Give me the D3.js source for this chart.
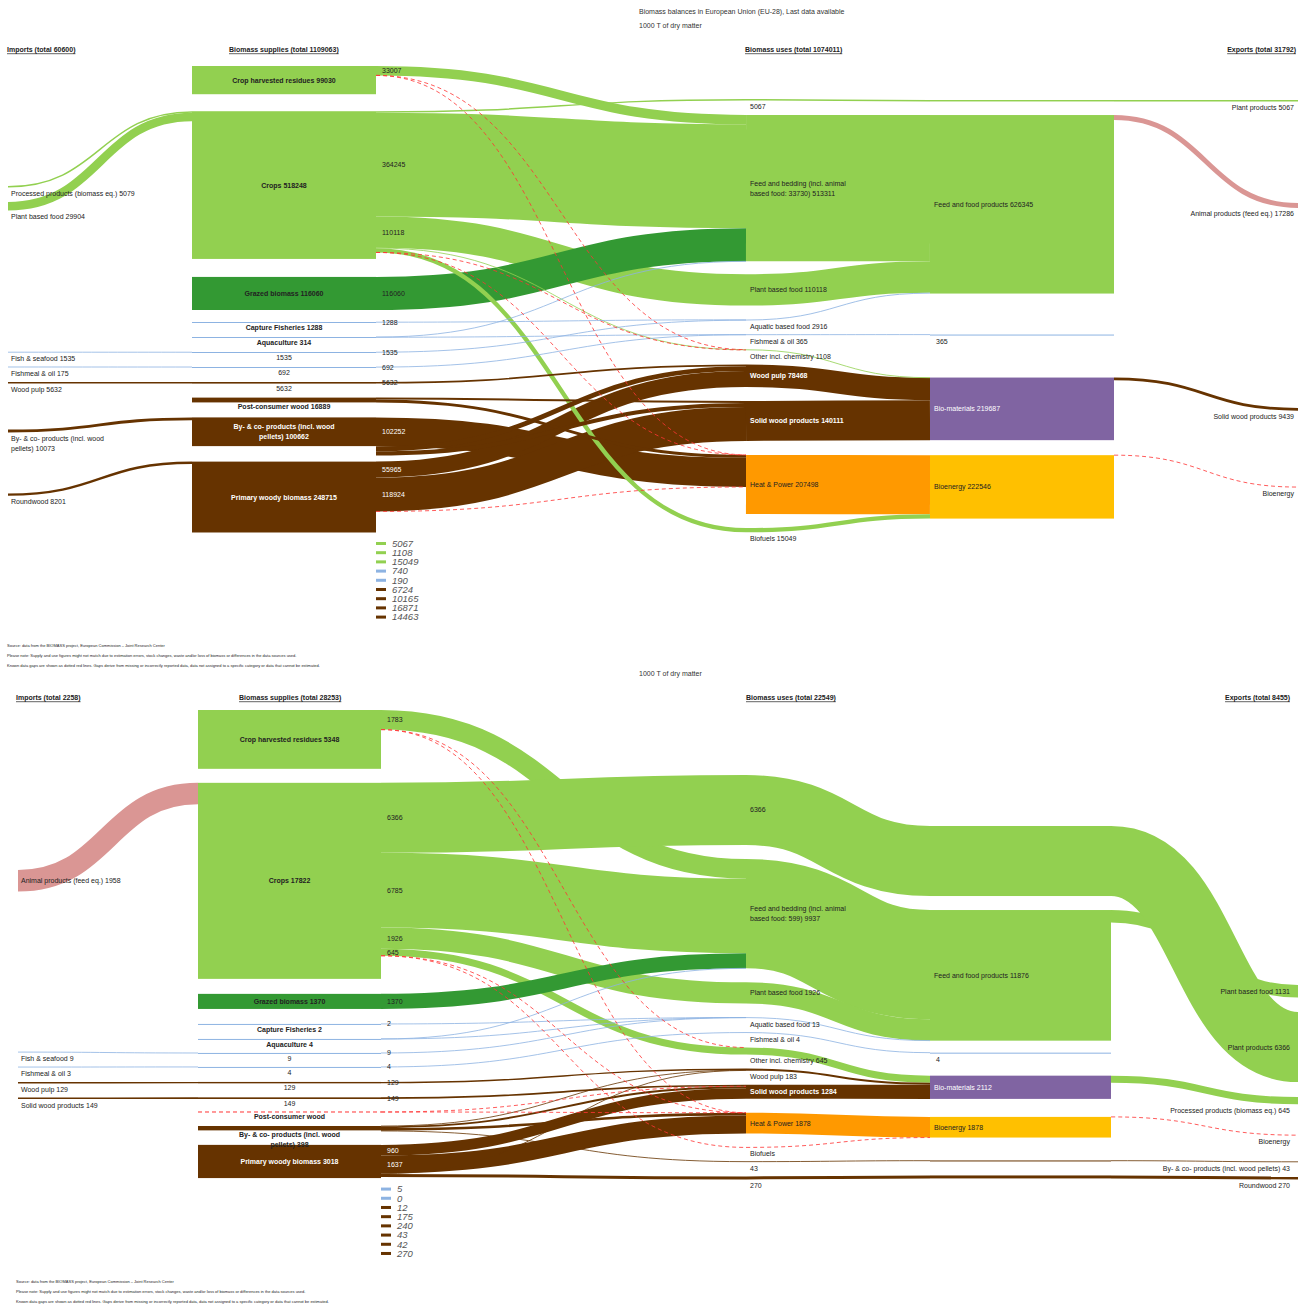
<!DOCTYPE html>
<html>
<head>
<meta charset="utf-8">
<title>Biomass balances</title>
<script src="https://cdn.jsdelivr.net/npm/d3@7"></script>
<style>
  body { margin: 0; background: #fff; }
  svg { display: block; font-family: "Liberation Sans", Arial, sans-serif; }
</style>
</head>
<body>
<svg id="chart" width="1306" height="1304"></svg>
<script>
// ---------- EU-28 panel (top) ----------
const titleA = ['Biomass balances in European Union (EU-28), Last data available', '1000 T of dry matter'];
const headersA = ['Imports (total 60600)', 'Biomass supplies (total 1109063)', 'Biomass uses (total 1074011)', 'Exports (total 31792)'];

const importsA = [
    {id: 'i_proc', name: 'Processed products (biomass eq.)', value: 5079, group: 'crop'},
    {id: 'i_pbf', name: 'Plant based food', value: 29904, group: 'crop'},
    {id: 'i_fish', name: 'Fish & seafood', value: 1535, group: 'fish'},
    {id: 'i_fmeal', name: 'Fishmeal & oil', value: 175, group: 'fish'},
    {id: 'i_pulp', name: 'Wood pulp', value: 5632, group: 'wood'},
    {id: 'i_byp', name: 'By- & co- products (incl. wood\npellets)', value: 10073, group: 'wood'},
    {id: 'i_round', name: 'Roundwood', value: 8201, group: 'wood'}
];
const suppliesA = [
    {id: 's_res', name: 'Crop harvested residues', value: 99030, group: 'crop'},
    {id: 's_crops', name: 'Crops', value: 518248, group: 'crop'},
    {id: 's_graz', name: 'Grazed biomass', value: 116060, group: 'grass'},
    {id: 's_capt', name: 'Capture Fisheries', value: 1288, group: 'fish'},
    {id: 's_aqua', name: 'Aquaculture', value: 314, group: 'fish'},
    {id: 'p_fish', name: '1535', value: 1535, group: 'fish', pass: true},
    {id: 'p_fmeal', name: '692', value: 692, group: 'fish', pass: true},
    {id: 'p_pulp', name: '5632', value: 5632, group: 'wood', pass: true},
    {id: 's_post', name: 'Post-consumer wood', value: 16889, group: 'wood'},
    {id: 's_byp', name: 'By- & co- products (incl. wood\npellets)', value: 100662, group: 'wood'},
    {id: 's_prim', name: 'Primary woody biomass', value: 248715, group: 'wood'}
];
const usesA = [
    {id: 'p_plant', name: '5067', value: 5067, group: 'crop', pass: true},
    {id: 'u_feed', name: 'Feed and bedding (incl. animal\nbased food: 33730)', value: 513311, group: 'crop'},
    {id: 'u_pbf', name: 'Plant based food', value: 110118, group: 'crop'},
    {id: 'u_aqua', name: 'Aquatic based food', value: 2916, group: 'fish'},
    {id: 'u_fmeal', name: 'Fishmeal & oil', value: 365, group: 'fish'},
    {id: 'u_chem', name: 'Other incl. chemistry', value: 1108, group: 'crop'},
    {id: 'u_pulp', name: 'Wood pulp', value: 78468, group: 'wood'},
    {id: 'u_solid', name: 'Solid wood products', value: 140111, group: 'wood'},
    {id: 'u_heat', name: 'Heat & Power', value: 207498, group: 'heat'},
    {id: 'u_biof', name: 'Biofuels', value: 15049, group: 'crop'}
];
const productsA = [
    {id: 'q_plant', name: '', value: 5067, group: 'crop', pass: true},
    {id: 'c_food', name: 'Feed and food products', value: 626345, group: 'crop'},
    {id: 'q_fmeal', name: '365', value: 365, group: 'fish', pass: true},
    {id: 'c_mat', name: 'Bio-materials', value: 219687, group: 'material'},
    {id: 'c_energy', name: 'Bioenergy', value: 222546, group: 'energy'}
];
const exportsA = [
    {id: 'e_plant', name: 'Plant products', value: 5067, group: 'crop'},
    {id: 'e_anim', name: 'Animal products (feed eq.)', value: 17286, group: 'animal'},
    {id: 'e_solid', name: 'Solid wood products', value: 9439, group: 'wood'},
    {id: 'e_energy', name: 'Bioenergy', value: null, group: 'gap'}
];
// [source, target, value (null = known data gap), value printed at source]
const flowsA = [
    ['i_proc', 's_crops', 5079], ['i_pbf', 's_crops', 29904], ['i_fish', 'p_fish', 1535],
    ['i_fmeal', 'p_fmeal', 175], ['i_pulp', 'p_pulp', 5632], ['i_byp', 's_byp', 10073],
    ['i_round', 's_prim', 8201],
    ['s_res', 'u_feed', 33007, true], ['s_res', 'u_chem', null], ['s_res', 'u_heat', null],
    ['s_crops', 'p_plant', 5067, false], ['s_crops', 'u_feed', 364245, true],
    ['s_crops', 'u_pbf', 110118, true], ['s_crops', 'u_chem', 1108, false],
    ['s_crops', 'u_biof', 15049, false], ['s_crops', 'u_chem', null], ['s_crops', 'u_heat', null],
    ['s_graz', 'u_feed', 116060, true],
    ['s_capt', 'u_aqua', 1288, true],
    ['s_aqua', 'u_feed', 740, false], ['s_aqua', 'u_fmeal', 190, false],
    ['p_fish', 'u_aqua', 1535, true], ['p_fmeal', 'u_fmeal', 692, true], ['p_pulp', 'u_pulp', 5632, true],
    ['s_post', 'u_solid', 6724, false], ['s_post', 'u_heat', 10165, false],
    ['s_byp', 'u_heat', 102252, true], ['s_byp', 'u_pulp', 16871, false], ['s_byp', 'u_solid', 14463, false],
    ['s_prim', 'u_pulp', 55965, true], ['s_prim', 'u_solid', 118924, true], ['s_prim', 'u_heat', null],
    ['p_plant', 'q_plant', 5067], ['u_feed', 'c_food', 513311], ['u_pbf', 'c_food', 110118],
    ['u_aqua', 'c_food', 2916], ['u_fmeal', 'q_fmeal', 365], ['u_chem', 'c_mat', 1108],
    ['u_pulp', 'c_mat', 78468], ['u_solid', 'c_mat', 140111], ['u_heat', 'c_energy', 207498],
    ['u_biof', 'c_energy', 15049],
    ['q_plant', 'e_plant', 5067], ['c_food', 'e_anim', 17286], ['c_mat', 'e_solid', 9439],
    ['c_energy', 'e_energy', null]
];

// ---------- second panel (bottom) ----------
const titleB = ['', '1000 T of dry matter'];
const headersB = ['Imports (total 2258)', 'Biomass supplies (total 28253)', 'Biomass uses (total 22549)', 'Exports (total 8455)'];

const importsB = [
    {id: 'i_anim', name: 'Animal products (feed eq.)', value: 1958, group: 'animal'},
    {id: 'i_fish', name: 'Fish & seafood', value: 9, group: 'fish'},
    {id: 'i_fmeal', name: 'Fishmeal & oil', value: 3, group: 'fish'},
    {id: 'i_pulp', name: 'Wood pulp', value: 129, group: 'wood'},
    {id: 'i_solid', name: 'Solid wood products', value: 149, group: 'wood'}
];
const suppliesB = [
    {id: 's_res', name: 'Crop harvested residues', value: 5348, group: 'crop'},
    {id: 's_crops', name: 'Crops', value: 17822, group: 'crop'},
    {id: 's_graz', name: 'Grazed biomass', value: 1370, group: 'grass'},
    {id: 's_capt', name: 'Capture Fisheries', value: 2, group: 'fish'},
    {id: 's_aqua', name: 'Aquaculture', value: 4, group: 'fish'},
    {id: 'p_fish', name: '9', value: 9, group: 'fish', pass: true},
    {id: 'p_fmeal', name: '4', value: 4, group: 'fish', pass: true},
    {id: 'p_pulp', name: '129', value: 129, group: 'wood', pass: true},
    {id: 'p_solid', name: '149', value: 149, group: 'wood', pass: true},
    {id: 's_post', name: 'Post-consumer wood', value: null, group: 'wood'},
    {id: 's_byp', name: 'By- & co- products (incl. wood\npellets)', value: 398, group: 'wood'},
    {id: 's_prim', name: 'Primary woody biomass', value: 3018, group: 'wood'}
];
const usesB = [
    {id: 'p_plant', name: '6366', value: 6366, group: 'crop', pass: true},
    {id: 'u_feed', name: 'Feed and bedding (incl. animal\nbased food: 599)', value: 9937, group: 'crop'},
    {id: 'u_pbf', name: 'Plant based food', value: 1926, group: 'crop'},
    {id: 'u_aqua', name: 'Aquatic based food', value: 13, group: 'fish'},
    {id: 'u_fmeal', name: 'Fishmeal & oil', value: 4, group: 'fish'},
    {id: 'u_chem', name: 'Other incl. chemistry', value: 645, group: 'crop'},
    {id: 'u_pulp', name: 'Wood pulp', value: 183, group: 'wood'},
    {id: 'u_solid', name: 'Solid wood products', value: 1284, group: 'wood'},
    {id: 'u_heat', name: 'Heat & Power', value: 1878, group: 'heat'},
    {id: 'u_biof', name: 'Biofuels', value: null, group: 'crop'},
    {id: 'p_byp', name: '43', value: 43, group: 'wood', pass: true},
    {id: 'p_round', name: '270', value: 270, group: 'wood', pass: true}
];
const productsB = [
    {id: 'q_plant', name: '', value: 6366, group: 'crop', pass: true},
    {id: 'c_food', name: 'Feed and food products', value: 11876, group: 'crop'},
    {id: 'q_fmeal', name: '4', value: 4, group: 'fish', pass: true},
    {id: 'c_mat', name: 'Bio-materials', value: 2112, group: 'material'},
    {id: 'c_energy', name: 'Bioenergy', value: 1878, group: 'energy'},
    {id: 'q_byp', name: '', value: 43, group: 'wood', pass: true},
    {id: 'q_round', name: '', value: 270, group: 'wood', pass: true}
];
const exportsB = [
    {id: 'e_pbf', name: 'Plant based food', value: 1131, group: 'crop'},
    {id: 'e_plant', name: 'Plant products', value: 6366, group: 'crop'},
    {id: 'e_proc', name: 'Processed products (biomass eq.)', value: 645, group: 'crop'},
    {id: 'e_energy', name: 'Bioenergy', value: null, group: 'gap'},
    {id: 'e_byp', name: 'By- & co- products (incl. wood pellets)', value: 43, group: 'wood'},
    {id: 'e_round', name: 'Roundwood', value: 270, group: 'wood'}
];
const flowsB = [
    ['i_anim', 's_crops', 1958], ['i_fish', 'p_fish', 9], ['i_fmeal', 'p_fmeal', 3],
    ['i_pulp', 'p_pulp', 129], ['i_solid', 'p_solid', 149],
    ['s_res', 'u_feed', 1783, true], ['s_res', 'u_chem', null], ['s_res', 'u_heat', null],
    ['s_crops', 'p_plant', 6366, true], ['s_crops', 'u_feed', 6785, true],
    ['s_crops', 'u_pbf', 1926, true], ['s_crops', 'u_chem', 645, true],
    ['s_crops', 'u_biof', null], ['s_crops', 'u_heat', null],
    ['s_graz', 'u_feed', 1370, true],
    ['s_capt', 'u_aqua', 2, true],
    ['s_aqua', 'u_aqua', 5, false], ['s_aqua', 'u_feed', 0, false],
    ['p_fish', 'u_aqua', 9, true], ['p_fmeal', 'u_fmeal', 4, true],
    ['p_pulp', 'u_pulp', 129, true], ['p_solid', 'u_solid', 149, true],
    ['s_post', 'u_solid', null], ['s_post', 'u_heat', null],
    ['s_byp', 'u_pulp', 12, false], ['s_byp', 'u_solid', 175, false],
    ['s_byp', 'u_heat', 240, false], ['s_byp', 'p_byp', 43, false],
    ['s_prim', 'u_solid', 960, true], ['s_prim', 'u_heat', 1637, true],
    ['s_prim', 'u_pulp', 42, false], ['s_prim', 'p_round', 270, false],
    ['p_plant', 'q_plant', 6366], ['u_feed', 'c_food', 9937], ['u_pbf', 'c_food', 1926],
    ['u_aqua', 'c_food', 13], ['u_fmeal', 'q_fmeal', 4], ['u_chem', 'c_mat', 645],
    ['u_pulp', 'c_mat', 183], ['u_solid', 'c_mat', 1284], ['u_heat', 'c_energy', 1878],
    ['u_biof', 'c_energy', null], ['p_byp', 'q_byp', 43], ['p_round', 'q_round', 270],
    ['c_food', 'e_pbf', 1131], ['q_plant', 'e_plant', 6366], ['c_mat', 'e_proc', 645],
    ['c_energy', 'e_energy', null], ['q_byp', 'e_byp', 43], ['q_round', 'e_round', 270]
];

const notes = [
    'Source: data from the BIOMASS project, European Commission \u2013 Joint Research Center',
    'Please note: Supply and use figures might not match due to estimation errors, stock changes, waste and/or loss of biomass or differences in the data sources used.',
    'Known data gaps are shown as dotted red lines. Gaps derive from missing or incorrectly reported data, data not assigned to a specific category or data that cannot be estimated.'
];

// colours per category
const COLOR = {
    crop: '#92d050', grass: '#339933', fish: '#8db3e2', wood: '#663300',
    animal: '#da9694', heat: '#ff9900', energy: '#ffc000', material: '#8064a2', gap: '#ff3333'
};
const WHITE_TEXT = ['wood', 'material'];
const FONT = 7;

// layout of each panel: column x extents, px per 1000 t, spacing before a node
const layoutA = {
    originY: 0, k: 0.000285, gap: 14, exportX: 1294, noteX: 7, cover: 671,
    colX: [[8, 8], [192, 376], [746, 746], [930, 1114], [1298, 1298]],
    headerX: [7, 229, 745, 1296],
    space: {
        i_proc: 186, i_pbf: 14.5, i_fish: 141.5, i_byp: 46, i_round: 61,
        s_res: 66, s_crops: 17, s_graz: 18, s_capt: 12, s_byp: 15, s_prim: 15.5,
        p_plant: 99, u_feed: 14.5, u_pbf: 13,
        q_plant: 100, c_food: 13.6, q_fmeal: 41, c_mat: 42, c_energy: 15,
        e_plant: 100, e_anim: 101.6, e_solid: 200, e_energy: 76.4
    }
};
const layoutB = {
    originY: 648, k: 0.011, gap: 14, exportX: 1290, noteX: 16, cover: 0,
    colX: [[18, 18], [198, 381], [746, 746], [930, 1111], [1298, 1298]],
    headerX: [16, 239, 746, 1290],
    space: {
        i_anim: 222, i_fish: 160.5,
        s_res: 62, s_graz: 15, s_capt: 15, p_fish: 13, p_fmeal: 13, s_post: 13, s_byp: 14, s_prim: 14.5,
        p_plant: 127,
        q_plant: 178, c_food: 14, q_fmeal: 12, c_mat: 22, c_energy: 18, q_byp: 22.9,
        e_pbf: 337, e_plant: 14.6, e_proc: 15, e_energy: 31, e_byp: 26.4
    }
};

const svg = d3.select('#chart');
const linkGen = d3.linkHorizontal().x(p => p[0]).y(p => p[1]);

const addText = (g, x, y, text, o = {}) => {
    const lines = text.split('\n');
    const lh = 10;
    const startY = o.center ? y - (lines.length - 1) * lh / 2 : y;
    const t = g.append('text')
        .attr('text-anchor', o.anchor || 'start')
        .attr('font-size', o.size || FONT)
        .attr('font-weight', o.bold ? 'bold' : null)
        .attr('font-style', o.italic ? 'italic' : null)
        .attr('fill', o.fill || '#222');
    if (o.underline) t.style('text-decoration', 'underline');
    lines.forEach((ln, i) => {
        t.append('tspan').attr('x', x).attr('y', startY + i * lh).attr('dy', '0.35em').text(ln);
    });
    return t;
};

function drawPanel(data, L) {
    const g = svg.append('g').attr('transform', `translate(0,${L.originY})`);
    if (L.cover) g.append('rect').attr('width', 1306).attr('height', L.cover).attr('fill', '#fff');

    const thick = d3.scaleLinear().domain([0, 1000]).range([0, 1000 * L.k]);

    // stack nodes in each column
    const nodes = new Map();
    data.columns.forEach((col, ci) => {
        let y = 0;
        col.forEach((d, i) => {
            const sp = L.space[d.id] ?? (i === 0 ? 0 : L.gap);
            const n = Object.assign({}, d, {col: ci});
            n.y0 = y + sp;
            n.h = d.value ? Math.max(thick(d.value), 1) : 0;
            n.y1 = n.y0 + n.h;
            [n.x0, n.x1] = L.colX[ci];
            n.outY = n.y0;
            n.inY = n.y0;
            y = n.y1;
            nodes.set(d.id, n);
        });
    });

    // stack flows at both ends
    const links = data.flows.map(([s, t, v, lab]) => {
        const src = nodes.get(s), tgt = nodes.get(t);
        const w = v ? thick(v) : 0;
        const l = {src, tgt, v, lab, w, sy: src.outY, ty: tgt.inY};
        src.outY += w;
        tgt.inY += w;
        return l;
    });
    const linkGroup = l => (l.tgt.col === 4 ? l.tgt.group : l.src.group);
    const linkD = l => linkGen({source: [l.src.x1, l.sy + l.w / 2], target: [l.tgt.x0, l.ty + l.w / 2]});

    const solid = links.filter(l => l.v !== null);
    const ordered = solid.filter(l => l.w >= 5).concat(solid.filter(l => l.w < 5));

    g.append('g')
        .selectAll('path')
        .data(ordered)
        .join('path')
        .attr('d', linkD)
        .attr('fill', 'none')
        .attr('stroke', l => COLOR[linkGroup(l)])
        .attr('stroke-width', l => Math.max(l.w, 0.8));

    // supply / product boxes (incl. pass-through bands)
    const boxes = [...nodes.values()].filter(n => (n.col === 1 || n.col === 3) && n.value);
    g.append('g')
        .selectAll('rect')
        .data(boxes)
        .join('rect')
        .attr('x', n => n.x0)
        .attr('y', n => n.y0)
        .attr('width', n => n.x1 - n.x0)
        .attr('height', n => n.h)
        .attr('fill', n => COLOR[n.group]);

    // nodes with unknown value and gap flows: dotted red
    const gapNodes = [...nodes.values()].filter(n => n.col === 1 && n.value === null);
    g.append('g')
        .selectAll('line')
        .data(gapNodes)
        .join('line')
        .attr('x1', n => n.x0).attr('x2', n => n.x1)
        .attr('y1', n => n.y0).attr('y2', n => n.y0)
        .attr('stroke', COLOR.gap).attr('stroke-width', 1).attr('stroke-dasharray', '4,3');

    g.append('g')
        .selectAll('path')
        .data(links.filter(l => l.v === null))
        .join('path')
        .attr('d', linkD)
        .attr('fill', 'none')
        .attr('stroke', COLOR.gap)
        .attr('stroke-width', 1)
        .attr('stroke-dasharray', '4,3')
        .attr('opacity', 0.8);

    // node labels
    const lg = g.append('g');
    nodes.forEach(n => {
        if (!n.name) return;
        const text = n.pass || n.value === null ? n.name : `${n.name} ${n.value}`;
        const inside = n.h >= 12;
        const white = inside && WHITE_TEXT.includes(n.group) && n.col > 0;
        const fill = white ? '#fff' : '#222';
        if (n.col === 0) {
            addText(lg, n.x0 + 3, inside ? (n.y0 + n.y1) / 2 : n.y1 + 6, text, {center: inside});
        } else if (n.col === 1) {
            addText(lg, (n.x0 + n.x1) / 2, inside ? (n.y0 + n.y1) / 2 : n.y1 + 4.5, text,
                {anchor: 'middle', bold: !n.pass, center: inside, fill});
        } else if (n.col === 2) {
            addText(lg, n.x0 + 4, inside ? (n.y0 + n.y1) / 2 : n.y1 + 6, text,
                {center: inside, fill, bold: white});
        } else if (n.col === 3) {
            addText(lg, n.x0 + (n.pass ? 6 : 4), inside ? (n.y0 + n.y1) / 2 : n.y1 + 6, text,
                {center: inside, fill});
        } else {
            addText(lg, L.exportX, inside ? (n.y0 + n.y1) / 2 : n.y1 + 6, text,
                {anchor: 'end', center: inside});
        }
    });

    // flow values printed next to the supply boxes
    links.filter(l => l.src.col === 1 && l.lab).forEach(l => {
        const onWood = WHITE_TEXT.includes(l.src.group) && l.w >= 6;
        addText(lg, l.src.x1 + 6, l.sy + l.w / 2, String(l.v), {fill: onWood ? '#fff' : '#222'});
    });

    // legend: flows from supplies that carry no printed value
    const legendItems = links.filter(l => l.src.col === 1 && l.v !== null && !l.lab);
    const col1 = [...nodes.values()].filter(n => n.col === 1);
    const legY = d3.max(col1, n => n.y1) + 11;
    const legX = L.colX[1][1];
    const step = 9.2;
    const leg = g.append('g').attr('transform', `translate(${legX},${legY})`);
    leg.selectAll('rect')
        .data(legendItems)
        .join('rect')
        .attr('x', 0)
        .attr('y', (d, i) => i * step - 1.5)
        .attr('width', 10)
        .attr('height', 3)
        .attr('fill', l => COLOR[linkGroup(l)]);
    legendItems.forEach((l, i) => {
        addText(leg, 16, i * step, String(l.v), {italic: true, size: 9.5, fill: '#555'});
    });

    // titles, headers, notes
    data.title.forEach((t, i) => {
        if (t) addText(g, 639, 12 + i * 14, t, {fill: '#333'});
    });
    data.headers.forEach((h, i) => {
        addText(g, L.headerX[i], 50, h, {bold: true, underline: true, anchor: i === 3 ? 'end' : 'start'});
    });
    const noteY = legY + (legendItems.length - 1) * step + 28.5;
    notes.forEach((t, i) => {
        addText(g, L.noteX, noteY + i * 10, t, {size: 4});
    });
}

drawPanel({
    title: titleB, headers: headersB,
    columns: [importsB, suppliesB, usesB, productsB, exportsB], flows: flowsB
}, layoutB);

drawPanel({
    title: titleA, headers: headersA,
    columns: [importsA, suppliesA, usesA, productsA, exportsA], flows: flowsA
}, layoutA);
</script>
</body>
</html>
